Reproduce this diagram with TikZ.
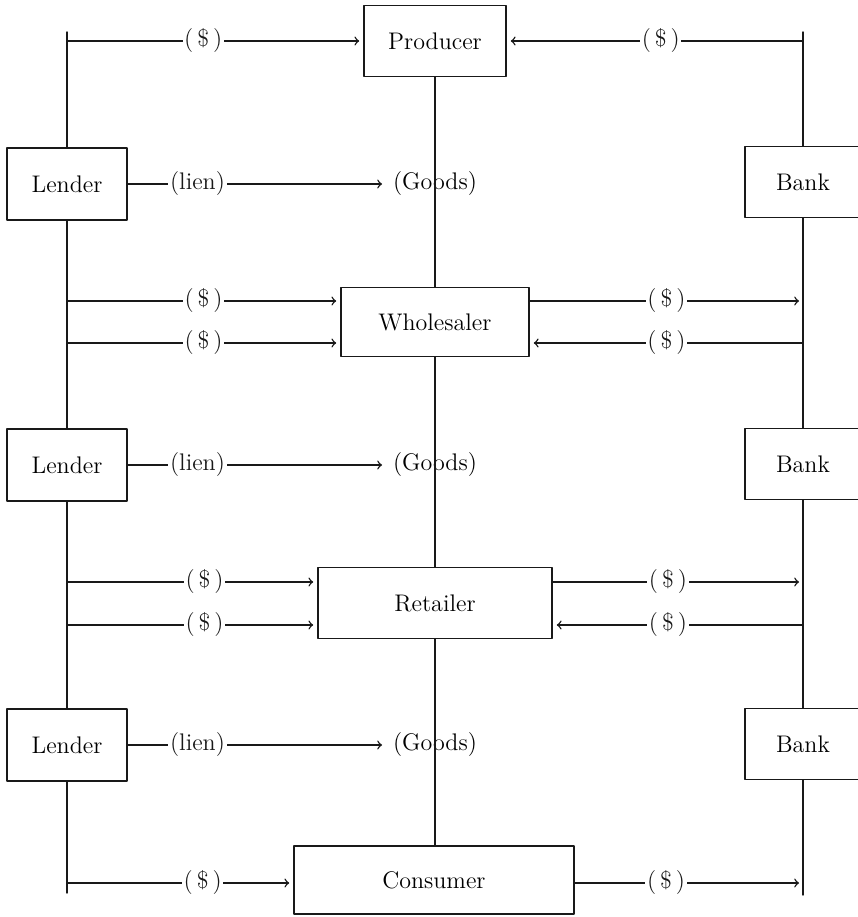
\documentclass[tikz,border=0pt]{standalone}
\usepackage{tikz}
\usetikzlibrary{arrows,calc,positioning}
\tikzset{>=to}
\definecolor{ttqqqq}{rgb}{0.1,0.1,0.1}

\begin{document}
\begin{tikzpicture}[line cap=round,line join=round,x=0.5pt,y=-0.5pt,
  box/.style={draw=ttqqqq,line width=0.8pt,inner sep=0pt,font=\large},
  flow/.style={->,line width=0.7pt,color=ttqqqq,shorten >=2pt},
  rail/.style={line width=0.7pt,color=ttqqqq},
  lbl/.style={fill=white,inner sep=0.8pt,font=\large}]
\useasboundingbox (0,0) rectangle (858,917);
% firms
\node[box,minimum width=71pt,minimum height=35.5pt] (producer) at (435,41) {Producer};
\node[box,minimum width=94pt,minimum height=34.5pt] (wholesaler) at (435,322) {Wholesaler};
\node[box,minimum width=117pt,minimum height=35.5pt] (retailer) at (435,603) {Retailer};
\node[box,minimum width=140pt,minimum height=34pt] (consumer) at (434,880) {Consumer};
% goods
\node[font=\large] (goodsa) at (435,184) {(Goods)};
\node[font=\large] (goodsb) at (435,465) {(Goods)};
\node[font=\large] (goodsc) at (435,745) {(Goods)};
% lenders
\node[box,minimum width=60pt,minimum height=36pt] (lendera) at (67,184) {Lender};
\node[box,minimum width=60pt,minimum height=36pt] (lenderb) at (67,465) {Lender};
\node[box,minimum width=60pt,minimum height=36pt] (lenderc) at (67,745) {Lender};
% banks
\node[box,minimum width=58pt,minimum height=35.5pt] (banka) at (803,182) {Bank};
\node[box,minimum width=58pt,minimum height=35.5pt] (bankb) at (803,464) {Bank};
\node[box,minimum width=58pt,minimum height=35.5pt] (bankc) at (803,744) {Bank};
% ends of the side lines
\coordinate (ltop) at (67,32);
\coordinate (lbot) at (67,893);
\coordinate (rtop) at (803,32);
\coordinate (rbot) at (803,895);
% side lines
\draw[rail] (ltop) -- (lendera.north);
\draw[rail] (lendera.south) -- (lenderb.north);
\draw[rail] (lenderb.south) -- (lenderc.north);
\draw[rail] (lenderc.south) -- (lbot);
\draw[rail] (rtop) -- (banka.north);
\draw[rail] (banka.south) -- (bankb.north);
\draw[rail] (bankb.south) -- (bankc.north);
\draw[rail] (bankc.south) -- (rbot);
% middle line
\draw[rail] (producer.south) -- (wholesaler.north);
\draw[rail] (wholesaler.south) -- (retailer.north);
\draw[rail] (retailer.south) -- (retailer.south |- consumer.north);
% liens
\draw[flow] (lendera.east) -- node[lbl,pos=0.27] {(lien)} (goodsa.west);
\draw[flow] (lenderb.east) -- node[lbl,pos=0.27] {(lien)} (goodsb.west);
\draw[flow] (lenderc.east) -- node[lbl,pos=0.27] {(lien)} (goodsc.west);
% money, left side
\coordinate (lp) at (67,41);
\coordinate (lwa) at (67,301);
\coordinate (lwb) at (67,343);
\coordinate (lra) at (67,582);
\coordinate (lrb) at (67,625);
\coordinate (lc) at (67,883);
\draw[flow] (lp) -- node[lbl,pos=0.46] {(\,\$\,)} (lp -| producer.west);
\draw[flow] (lwa) -- node[lbl,pos=0.5] {(\,\$\,)} (lwa -| wholesaler.west);
\draw[flow] (lwb) -- node[lbl,pos=0.5] {(\,\$\,)} (lwb -| wholesaler.west);
\draw[flow] (lra) -- node[lbl,pos=0.55] {(\,\$\,)} (lra -| retailer.west);
\draw[flow] (lrb) -- node[lbl,pos=0.55] {(\,\$\,)} (lrb -| retailer.west);
\draw[flow] (lc) -- node[lbl,pos=0.6] {(\,\$\,)} (lc -| consumer.west);
% money, right side
\coordinate (rp) at (803,41);
\coordinate (rwa) at (803,301);
\coordinate (rwb) at (803,343);
\coordinate (rra) at (803,582);
\coordinate (rrb) at (803,625);
\coordinate (rc) at (803,883);
\draw[flow] (rp) -- node[lbl,pos=0.48] {(\,\$\,)} (rp -| producer.east);
\draw[flow] (rwa -| wholesaler.east) -- node[lbl,pos=0.5] {(\,\$\,)} (rwa);
\draw[flow] (rwb) -- node[lbl,pos=0.5] {(\,\$\,)} (rwb -| wholesaler.east);
\draw[flow] (rra -| retailer.east) -- node[lbl,pos=0.46] {(\,\$\,)} (rra);
\draw[flow] (rrb) -- node[lbl,pos=0.54] {(\,\$\,)} (rrb -| retailer.east);
\draw[flow] (rc -| consumer.east) -- node[lbl,pos=0.4] {(\,\$\,)} (rc);
\end{tikzpicture}
\end{document}
